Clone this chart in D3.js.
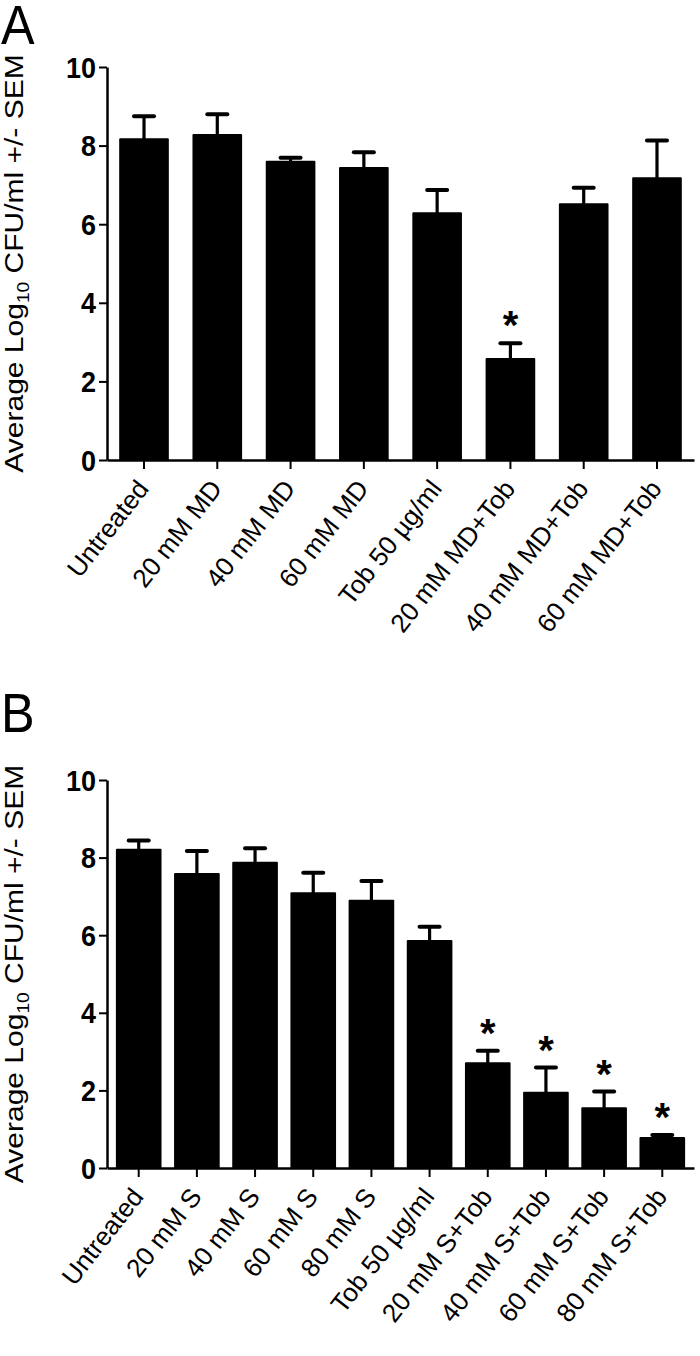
<!DOCTYPE html>
<html>
<head>
<meta charset="utf-8">
<script src="https://cdn.jsdelivr.net/npm/d3@7"></script>
<style>
  body { margin: 0; background: #fff; }
  svg text { font-family: "Liberation Sans", Arial, sans-serif; fill: #000; }
</style>
</head>
<body>
<div id="chart"></div>
<script>
// panel A: maltodextrin (MD) series
const catsA = ['Untreated', '20 mM MD', '40 mM MD', '60 mM MD', 'Tob 50 µg/ml', '20 mM MD+Tob', '40 mM MD+Tob', '60 mM MD+Tob'];
const meanA = [8.16, 8.27, 7.59, 7.43, 6.28, 2.57, 6.51, 7.17];
const semA = [0.59, 0.53, 0.10, 0.40, 0.59, 0.40, 0.42, 0.96];
const starA = [0, 0, 0, 0, 0, 1, 0, 0];

// panel B: S series
const catsB = ['Untreated', '20 mM S', '40 mM S', '60 mM S', '80 mM S', 'Tob 50 µg/ml', '20 mM S+Tob', '40 mM S+Tob', '60 mM S+Tob', '80 mM S+Tob'];
const meanB = [8.20, 7.58, 7.87, 7.08, 6.89, 5.85, 2.70, 1.94, 1.54, 0.77];
const semB = [0.24, 0.59, 0.37, 0.53, 0.51, 0.37, 0.32, 0.65, 0.43, 0.08];
const starB = [0, 0, 0, 0, 0, 0, 1, 1, 1, 1];

const yTicks = [0, 2, 4, 6, 8, 10];

const W = 700, H = 1356;
// the source figure is a little taller than wide, so text is stretched a bit
const stretch = 1.2;

const svg = d3.select('#chart')
  .append('svg')
  .attr('width', W)
  .attr('height', H);

function drawPanel(letter, cats, means, sems, stars, top, bottom, letterY, padIn, padOut) {
  const g = svg.append('g');

  const x = d3.scaleBand()
    .domain(cats)
    .range([107, 694])
    .paddingInner(padIn)
    .paddingOuter(padOut);

  const y = d3.scaleLinear()
    .domain([0, 10])
    .range([bottom, top]);

  // panel letter
  g.append('text')
    .attr('transform', 'translate(1,' + letterY + ') scale(0.95,1.05)')
    .attr('font-size', 53)
    .text(letter);

  // y axis title, with subscript 10
  const title = g.append('text')
    .attr('transform', 'translate(23,' + ((top + bottom) / 2) + ') scale(1,' + stretch + ') rotate(-90)')
    .attr('text-anchor', 'middle')
    .attr('font-size', 25);
  title.append('tspan').text('Average Log');
  title.append('tspan').attr('font-size', 16).attr('dy', 6).text('10');
  title.append('tspan').attr('dy', -6).text(' CFU/ml  +/- SEM');

  // bars
  g.append('g')
    .selectAll('rect')
    .data(cats)
    .enter().append('rect')
      .attr('x', d => x(d))
      .attr('width', x.bandwidth())
      .attr('y', (d, i) => y(means[i]))
      .attr('height', (d, i) => y(0) - y(means[i]))
      .attr('fill', '#000')
      .attr('stroke', '#000')
      .attr('stroke-width', 2)
      .attr('stroke-linejoin', 'round');

  // error bars (upper only)
  const err = g.append('g')
    .selectAll('g')
    .data(cats)
    .enter().append('g');

  err.append('line')
    .attr('x1', d => x(d) + x.bandwidth() / 2)
    .attr('x2', d => x(d) + x.bandwidth() / 2)
    .attr('y1', (d, i) => y(means[i]))
    .attr('y2', (d, i) => y(means[i] + sems[i]))
    .attr('stroke', '#000')
    .attr('stroke-width', 3.2);

  err.append('line')
    .attr('x1', d => x(d) + x.bandwidth() / 2 - 10)
    .attr('x2', d => x(d) + x.bandwidth() / 2 + 10)
    .attr('y1', (d, i) => y(means[i] + sems[i]))
    .attr('y2', (d, i) => y(means[i] + sems[i]))
    .attr('stroke', '#000')
    .attr('stroke-width', 4)
    .attr('stroke-linecap', 'round');

  // significance stars
  g.append('g')
    .selectAll('text')
    .data(cats.filter((d, i) => stars[i]))
    .enter().append('text')
      .attr('x', d => x(d) + x.bandwidth() / 2)
      .attr('y', d => {
        const i = cats.indexOf(d);
        return y(means[i] + sems[i]) - 25 + 21;
      })
      .attr('text-anchor', 'middle')
      .attr('font-size', 40)
      .attr('font-weight', 'bold')
      .text('*');

  // y axis
  const yAxis = g.append('g')
    .attr('transform', 'translate(107,0)')
    .call(d3.axisLeft(y).tickValues(yTicks).tickSize(8).tickSizeOuter(0).tickPadding(3));
  yAxis.select('.domain').attr('stroke-width', 2.5);
  yAxis.selectAll('.tick line').attr('stroke-width', 2);
  yAxis.selectAll('.tick text')
    .attr('font-family', '"Liberation Sans", Arial, sans-serif')
    .attr('font-size', 27)
    .attr('font-weight', 'bold')
    .attr('x', 0)
    .attr('dy', 0)
    .attr('transform', 'translate(-11,10) scale(1,1.12)');

  // x axis
  const xAxis = g.append('g')
    .attr('transform', 'translate(0,' + bottom + ')')
    .call(d3.axisBottom(x).tickSize(9).tickSizeOuter(0));
  xAxis.select('.domain').attr('stroke-width', 2.5);
  xAxis.selectAll('.tick line').attr('stroke-width', 2);
  xAxis.selectAll('.tick text')
    .attr('font-family', '"Liberation Sans", Arial, sans-serif')
    .attr('font-size', 26)
    .attr('text-anchor', 'end')
    .attr('x', 0)
    .attr('y', 0)
    .attr('dy', 0)
    .attr('transform', 'translate(6,29) rotate(-52)');
}

drawPanel('A', catsA, meanA, semA, starA, 67, 460, 44, 0.35, 0.18);
drawPanel('B', catsB, meanB, semB, starB, 780, 1168, 732, 0.25, 0.17);
</script>
</body>
</html>
